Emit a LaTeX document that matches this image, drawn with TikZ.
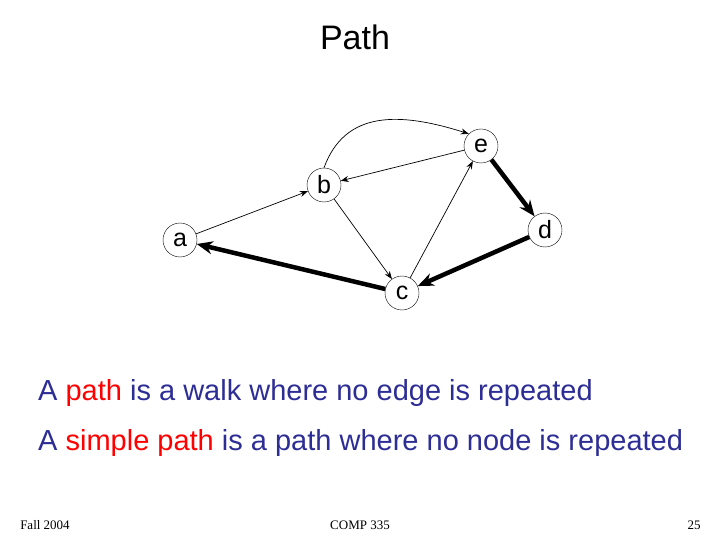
\documentclass[tikz,border=0pt]{standalone}
\usepackage{fontspec}
\setmainfont{Liberation Sans}
\newfontfamily\footfont{Liberation Serif}
\usetikzlibrary{arrows.meta}
\definecolor{txtblue}{RGB}{45,45,150}
\begin{document}
\begin{tikzpicture}[x=1pt,y=-1pt,
  vert/.style={circle,draw,thin,minimum size=34pt,inner sep=0pt,font=\fontsize{25}{27}\selectfont},
  thinedge/.style={-{Stealth[length=8pt,width=6pt]},line width=0.7pt},
  thickedge/.style={-{Stealth[length=16pt,width=13pt]},line width=4.5pt},
  body/.style={anchor=west,font=\fontsize{29}{32}\selectfont,text=txtblue,inner sep=0pt}]
\useasboundingbox (0,0) rectangle (720,540);
\node (title) at (355,37) {\fontsize{34}{38}\selectfont Path};
\node[vert] (a) at (180,240) {a};
\node[vert] (b) at (324,185) {b};
\node[vert] (e) at (481,146) {e};
\node[vert] (d) at (545,230) {d};
\node[vert] (c) at (402,293) {c};
\draw[thinedge] (a) -- (b);
\draw[thinedge] (b) -- (c);
\draw[thinedge] (c) -- (e);
\draw[thinedge] (e) -- (b);
\draw[thinedge] (b.north) .. controls (345,110) and (400,112) .. (e.north west);
\draw[thickedge] (e) -- (d);
\draw[thickedge] (d) -- (c);
\draw[thickedge] (c) -- (a);
\node[body] (l1) at (38,393) {A \textcolor{red}{path} is a walk where no edge is repeated};
\node[body] (l2) at (38,443) {A \textcolor{red}{simple path} is a path where no node is repeated};
\node[font=\footfont\fontsize{13}{15}\selectfont] (f1) at (45,525) {Fall 2004};
\node[font=\footfont\fontsize{13}{15}\selectfont] (f2) at (360,525) {COMP 335};
\node[font=\footfont\fontsize{13}{15}\selectfont] (f3) at (694,525) {25};
\end{tikzpicture}
\end{document}
